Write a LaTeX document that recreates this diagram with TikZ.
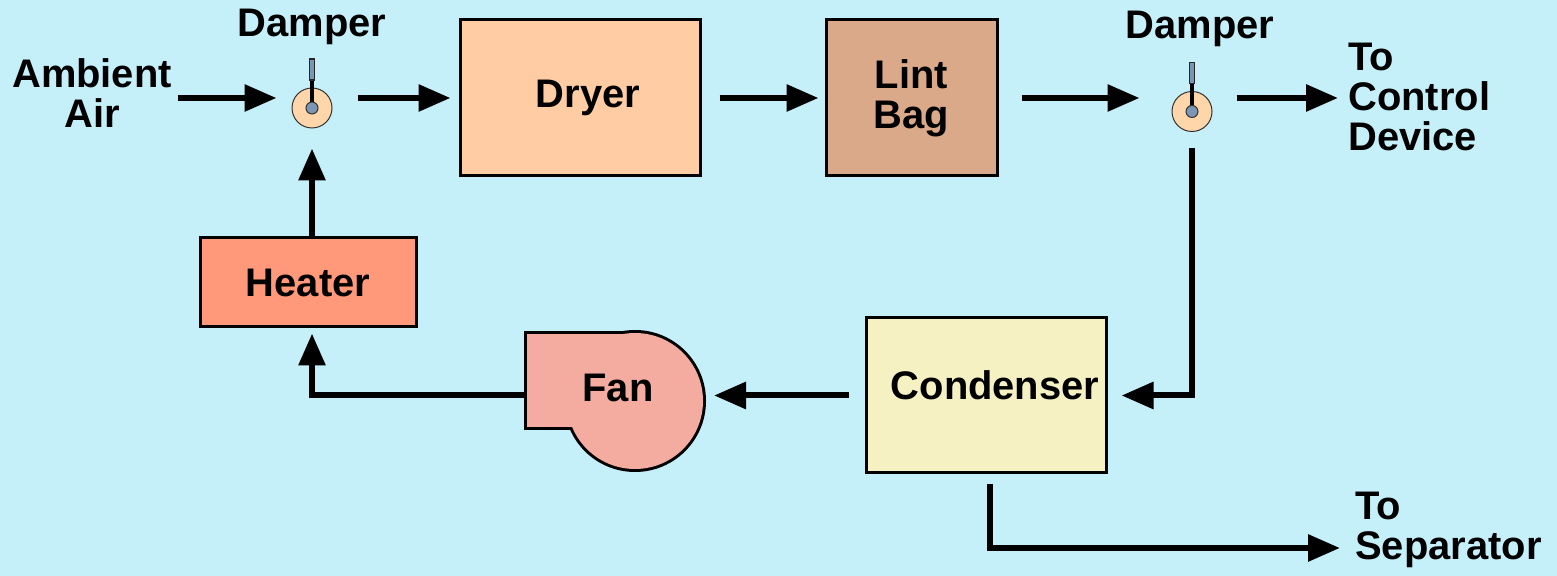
\documentclass[tikz,border=0pt]{standalone}
\usepackage{fontspec}
\setmainfont{Liberation Sans}
\usetikzlibrary{arrows.meta,positioning}
\definecolor{dBack}{RGB}{197,240,250}
\definecolor{dDryer}{RGB}{255,204,164}
\definecolor{dLint}{RGB}{217,169,137}
\definecolor{dHeater}{RGB}{255,153,122}
\definecolor{dCond}{RGB}{245,241,194}
\definecolor{dFan}{RGB}{244,172,160}
\definecolor{dDisc}{RGB}{255,214,170}
\definecolor{dPin}{RGB}{122,150,180}

\begin{document}
\begin{tikzpicture}[
			font=\fontsize{22.7}{22.7}\selectfont\bfseries,
			box/.style={
				draw=black,
				line width=0.06cm,
				inner sep=0pt,
				align=center
			},
			lbl/.style={inner sep=0pt,align=center},
			damper/.style={
				circle,
				draw=black!80,
				line width=0.02cm,
				fill=dDisc,
				minimum size=0.8cm,
				inner sep=0pt
			},
			flow/.style={line width=0.12cm,-{Triangle[length=0.64cm,width=0.52cm]}},
			fanline/.style={draw=black,line width=0.12cm,inner sep=0pt},
			fanfill/.style={fill=dFan,inner sep=0pt}
			]
			\path[use as bounding box,fill=dBack] (0,0) rectangle (31.14,11.52);
			% boxes
			\node[box,fill=dDryer,minimum width=4.8cm,minimum height=3.12cm](dryer) at (11.6,9.56) {\hspace{0.32cm}Dryer};
			\node[box,fill=dLint,minimum width=3.42cm,minimum height=3.12cm](lint) at (18.23,9.56) {Lint\\Bag};
			\node[box,fill=dHeater,minimum width=4.32cm,minimum height=1.78cm](heater) at (6.16,5.87) {Heater};
			\node[box,fill=dCond,minimum width=4.8cm,minimum height=3.1cm](cond) at (19.72,3.61) {\hspace{0.36cm}\raisebox{0.2cm}[\height][\depth]{Condenser}};
			% fan
			\node[fanline,minimum width=2.16cm,minimum height=1.86cm](fanr) at (11.62,3.91) {};
			\node[fanline,circle,minimum size=2.72cm](fanw) at (12.7,3.5) {};
			\node[fanfill,minimum width=2.16cm,minimum height=1.86cm] at (11.62,3.91) {};
			\node[fanfill,circle,minimum size=2.72cm] at (12.7,3.5) {};
			\node[lbl](fan) at (12.36,3.76) {Fan};
			% dampers
			\node[damper](d1) at (6.24,9.36) {};
			\node[damper](d2) at (23.84,9.29) {};
			\foreach \dm in {d1,d2}{
				\draw[line width=0.08cm] (\dm.center) -- ++(0,0.56);
				\filldraw[fill=dPin,draw=black!85,line width=0.025cm] ([xshift=-0.05cm,yshift=0.56cm]\dm.center) rectangle ([xshift=0.05cm,yshift=0.98cm]\dm.center);
				\filldraw[fill=dPin,draw=black!80,line width=0.02cm] (\dm.center) circle (0.12);
			}
			% labels
			\node[lbl](amb) at (1.84,9.66) {Ambient\\Air};
			\node[lbl](dlab1) at (6.24,10.98) {Damper};
			\node[lbl](dlab2) at (24.0,10.94) {Damper};
			\node[lbl,align=left,anchor=west](ctrl) at (26.96,9.58) {To\\Control\\Device};
			\node[lbl,align=left,anchor=west](sep) at (27.1,0.92) {To\\Separator};
			\coordinate (sepin) at (26.8,0.56);
			% flow
			\draw[flow,shorten <=0.12cm,shorten >=0.3cm] (amb.east |- dryer) -- (d1.west |- dryer);
			\draw[flow,shorten <=0.5cm,shorten >=0.16cm] (d1.east |- dryer) -- (dryer.west);
			\draw[flow,shorten <=0.36cm,shorten >=0.12cm] (dryer.east) -- (lint.west);
			\draw[flow,shorten <=0.46cm,shorten >=0.64cm] (lint.east) -- (d2.west |- lint);
			\draw[flow,shorten <=0.48cm,shorten >=0.2cm] (d2.east |- lint) -- (ctrl.west |- lint);
			\draw[flow,shorten <=0.32cm,shorten >=0.28cm] (d2.south) -- (d2.south |- cond) -- (cond.east);
			\draw[flow,shorten <=0.32cm,shorten >=0.16cm] (cond.west) -- (fanw.east |- cond);
			\draw[flow,shorten >=0.1cm] (fanr.west |- cond) -- (d1 |- cond) -- (d1 |- heater.south);
			\draw[flow,shorten >=0.4cm] (d1 |- heater.north) -- (d1.south);
			\draw[flow,shorten <=0.2cm] ([xshift=0.08cm]cond.south) -- ([xshift=0.08cm]cond.south |- sepin) -- (sepin);
		\end{tikzpicture}
\end{document}
